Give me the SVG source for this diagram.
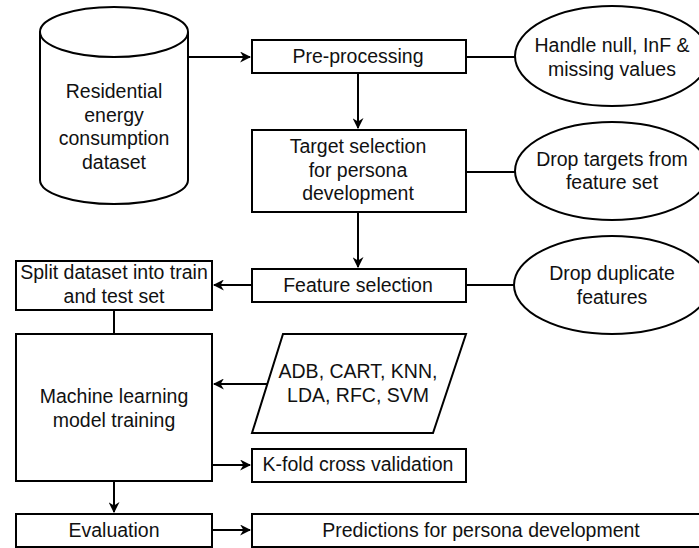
<svg xmlns="http://www.w3.org/2000/svg" width="699" height="548" viewBox="0 0 699 548">
<style>
.s{fill:#fff;stroke:#000;stroke-width:2}
.c{fill:none;stroke:#000;stroke-width:2}
.t{font-family:"Liberation Sans",Arial,sans-serif;font-size:19.5px;fill:#111;text-anchor:middle}
</style>
<defs>
<marker id="a" viewBox="0 0 10 10" refX="9" refY="5" markerWidth="5.5" markerHeight="5.5" orient="auto" markerUnits="strokeWidth">
<path d="M0,0 L10,5 L0,10 L3,5 Z" fill="#000"/>
</marker>
</defs>
<rect width="699" height="548" fill="#fff"/>
<g id="connectors">
<path class="c" d="M188,57 H250" marker-end="url(#a)"/>
<path class="c" d="M466,57 H515"/>
<path class="c" d="M358,73 V128" marker-end="url(#a)"/>
<path class="c" d="M466,172 H515"/>
<path class="c" d="M358,212 V267" marker-end="url(#a)"/>
<path class="c" d="M466,285 H514"/>
<path class="c" d="M252,285 H214" marker-end="url(#a)"/>
<path class="c" d="M114,310 V334"/>
<path class="c" d="M267,384 H214" marker-end="url(#a)"/>
<path class="c" d="M212,465 H250" marker-end="url(#a)"/>
<path class="c" d="M114,481 V512" marker-end="url(#a)"/>
<path class="c" d="M212,530 H250" marker-end="url(#a)"/>
</g>
<g id="dataset">
<path class="s" d="M40,32 A74,25 0 0 1 188,32 V180 A74,24 0 0 1 40,180 Z"/>
<path class="c" d="M40,32 A74,25 0 0 0 188,32"/>
<text class="t" x="114" y="98">Residential</text>
<text class="t" x="114" y="121.5">energy</text>
<text class="t" x="114" y="145">consumption</text>
<text class="t" x="114" y="168.5">dataset</text>
</g>
<g id="preprocessing">
<rect class="s" x="252" y="40" width="214" height="33"/>
<text class="t" x="358" y="63">Pre-processing</text>
</g>
<g id="handle-null">
<ellipse class="s" cx="612" cy="56" rx="97" ry="50"/>
<text class="t" x="612" y="52">Handle null, InF &amp;</text>
<text class="t" x="612" y="75.5">missing values</text>
</g>
<g id="target-selection">
<rect class="s" x="252" y="130" width="214" height="82"/>
<text class="t" x="358" y="153">Target selection</text>
<text class="t" x="358" y="176.5">for persona</text>
<text class="t" x="358" y="200">development</text>
</g>
<g id="drop-targets">
<ellipse class="s" cx="612" cy="171" rx="97" ry="49"/>
<text class="t" x="612" y="165.5">Drop targets from</text>
<text class="t" x="612" y="189">feature set</text>
</g>
<g id="feature-selection">
<rect class="s" x="252" y="269" width="214" height="33"/>
<text class="t" x="358" y="292">Feature selection</text>
</g>
<g id="drop-duplicate">
<ellipse class="s" cx="612" cy="285" rx="98" ry="49"/>
<text class="t" x="612" y="280">Drop duplicate</text>
<text class="t" x="612" y="303.5">features</text>
</g>
<g id="split">
<rect class="s" x="16" y="261" width="196" height="49"/>
<text class="t" x="114" y="279">Split dataset into train</text>
<text class="t" x="114" y="302.5">and test set</text>
</g>
<g id="ml-training">
<rect class="s" x="16" y="334" width="196" height="147"/>
<text class="t" x="114" y="403">Machine learning</text>
<text class="t" x="114" y="426.5">model training</text>
</g>
<g id="models">
<path class="s" d="M283,334 H466 L433,433 H252 Z"/>
<text class="t" x="358" y="378">ADB, CART, KNN,</text>
<text class="t" x="358" y="402">LDA, RFC, SVM</text>
</g>
<g id="kfold">
<rect class="s" x="252" y="449" width="214" height="33"/>
<text class="t" x="358" y="471">K-fold cross validation</text>
</g>
<g id="evaluation">
<rect class="s" x="16" y="514" width="196" height="33"/>
<text class="t" x="114" y="537">Evaluation</text>
</g>
<g id="predictions">
<rect class="s" x="252" y="514" width="458" height="33"/>
<text class="t" x="481" y="537">Predictions for persona development</text>
</g>
</svg>
